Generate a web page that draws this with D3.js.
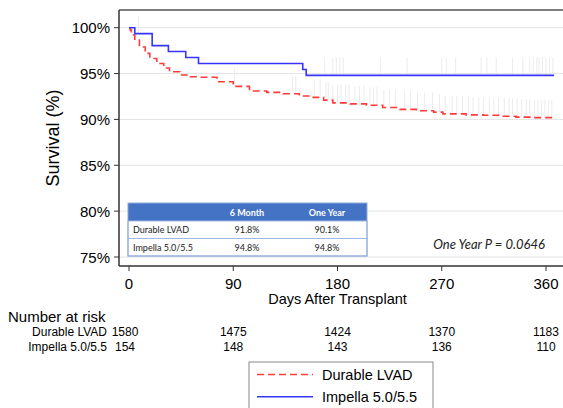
<!DOCTYPE html>
<html>
<head>
<meta charset="utf-8">
<script src="https://cdn.jsdelivr.net/npm/d3@7"></script>
<style>
  body { margin: 0; background: #fff; }
  svg { display: block; font-family: "Liberation Sans", Arial, sans-serif; }
</style>
</head>
<body>
<div id="chart"></div>
<script>
// Kaplan-Meier estimates (days, survival %)
const lvadDays = [0, 1, 2, 5, 9, 14, 18, 24, 30, 35, 44, 53, 61, 76, 90, 104, 119, 133, 147, 159, 168, 176, 191, 205, 219, 234, 248, 263, 271, 291, 306, 320, 334, 349, 367];
const lvadSurv = [100, 99.75, 99.2, 98.65, 97.9, 97.2, 96.65, 96.1, 95.6, 95.2, 94.85, 94.65, 94.6, 94.1, 93.6, 93.1, 92.95, 92.8, 92.55, 92.4, 92.1, 91.8, 91.7, 91.55, 91.3, 91.1, 90.95, 90.8, 90.6, 90.5, 90.45, 90.35, 90.25, 90.2, 90.1];

const impDays = [0, 5, 20, 34, 49, 60, 150, 153, 367];
const impSurv = [100, 99.35, 98.05, 97.4, 96.75, 96.1, 95.45, 94.8, 94.8];

// censoring marks
const lvadCensor = [91, 141, 144, 160, 165, 170, 172, 176, 180, 183, 187, 190, 195, 199, 203, 208, 211, 214, 220, 225, 230, 238, 243, 249, 255, 262, 268, 273, 279, 283, 288, 293, 297, 302, 306, 311, 315, 319, 324, 328, 331, 335, 339, 343, 346, 350, 353, 356, 359, 362, 365];
const impCensor = [8, 169, 176, 179, 182, 185, 217, 240, 270, 274, 282, 304, 309, 317, 331, 340, 346, 349, 352, 354, 357, 360, 363, 366];

const xTicks = [0, 90, 180, 270, 360];
const yTicks = [75, 80, 85, 90, 95, 100];

// number at risk
const riskGroups = ["Durable LVAD", "Impella 5.0/5.5"];
const riskLVAD = [1580, 1475, 1424, 1370, 1183];
const riskImpella = [154, 148, 143, 136, 110];

// inset table
const tableCols = ["6 Month", "One Year"];
const tableSixMonth = ["91.8%", "94.8%"];
const tableOneYear = ["90.1%", "94.8%"];

const pValue = "One Year P = 0.0646";

const red = "#ff3b3b";
const blue = "#3535ff";

const W = 563, H = 408;
const frameLeft = 119, frameTop = 10, frameBottom = 266;

const svg = d3.select("#chart").append("svg")
  .attr("width", W)
  .attr("height", H);

const x = d3.scaleLinear().domain([0, 360]).range([129, 546]);
const y = d3.scaleLinear().domain([75, 100]).range([257, 27.7]);

// gridlines
svg.append("g")
  .selectAll("line")
  .data(yTicks)
  .enter()
  .append("line")
  .attr("x1", frameLeft).attr("x2", W)
  .attr("y1", d => y(d)).attr("y2", d => y(d))
  .attr("stroke", "#e4e4e4")
  .attr("stroke-width", 1);

// censoring marks
const lvadStep = d => {
  let v = lvadSurv[0];
  lvadDays.forEach((t, i) => { if (t <= d) v = lvadSurv[i]; });
  return v;
};
const impStep = d => {
  let v = impSurv[0];
  impDays.forEach((t, i) => { if (t <= d) v = impSurv[i]; });
  return v;
};
svg.append("g")
  .selectAll("line")
  .data(lvadCensor)
  .enter()
  .append("line")
  .attr("x1", d => x(d)).attr("x2", d => x(d))
  .attr("y1", d => y(lvadStep(d)))
  .attr("y2", d => y(lvadStep(d)) - 18)
  .attr("stroke", "#ececec")
  .attr("stroke-width", 1);
svg.append("g")
  .selectAll("line")
  .data(impCensor)
  .enter()
  .append("line")
  .attr("x1", d => x(d)).attr("x2", d => x(d))
  .attr("y1", d => y(impStep(d)))
  .attr("y2", d => y(impStep(d)) - 18)
  .attr("stroke", "#ececec")
  .attr("stroke-width", 1);

// survival curves
const line = d3.line()
  .x(d => x(d[0]))
  .y(d => y(d[1]))
  .curve(d3.curveStepAfter);

svg.append("path")
  .attr("d", line(d3.zip(lvadDays, lvadSurv)))
  .attr("fill", "none")
  .attr("stroke", red)
  .attr("stroke-width", 1.6)
  .attr("stroke-dasharray", "7,4");

svg.append("path")
  .attr("d", line(d3.zip(impDays, impSurv)))
  .attr("fill", "none")
  .attr("stroke", blue)
  .attr("stroke-width", 1.6);

// frame
svg.append("line")
  .attr("x1", frameLeft).attr("x2", W)
  .attr("y1", frameTop).attr("y2", frameTop)
  .attr("stroke", "#555").attr("stroke-width", 1.5);
svg.append("line")
  .attr("x1", frameLeft).attr("x2", W)
  .attr("y1", frameBottom).attr("y2", frameBottom)
  .attr("stroke", "#333").attr("stroke-width", 1.5);
svg.append("line")
  .attr("x1", frameLeft).attr("x2", frameLeft)
  .attr("y1", frameTop).attr("y2", frameBottom)
  .attr("stroke", "#333").attr("stroke-width", 1.5);

// y axis ticks and labels
const yAxis = svg.append("g");
yAxis.selectAll("line")
  .data(yTicks)
  .enter()
  .append("line")
  .attr("x1", frameLeft - 5).attr("x2", frameLeft)
  .attr("y1", d => y(d)).attr("y2", d => y(d))
  .attr("stroke", "#333");
yAxis.selectAll("text")
  .data(yTicks)
  .enter()
  .append("text")
  .attr("x", 110)
  .attr("y", d => y(d) + 5.5)
  .attr("text-anchor", "end")
  .style("font-size", "15px")
  .text(d => d + "%");

svg.append("text")
  .attr("transform", "translate(59,138) rotate(-90)")
  .attr("text-anchor", "middle")
  .style("font-size", "18px")
  .text("Survival (%)");

// x axis ticks and labels
const xAxis = svg.append("g");
xAxis.selectAll("line")
  .data(xTicks)
  .enter()
  .append("line")
  .attr("x1", d => x(d)).attr("x2", d => x(d))
  .attr("y1", frameBottom).attr("y2", frameBottom + 5)
  .attr("stroke", "#333");
xAxis.selectAll("text")
  .data(xTicks)
  .enter()
  .append("text")
  .attr("x", d => x(d))
  .attr("y", 289)
  .attr("text-anchor", "middle")
  .style("font-size", "15px")
  .text(d => d);

svg.append("text")
  .attr("x", x(180))
  .attr("y", 304)
  .attr("text-anchor", "middle")
  .style("font-size", "14.5px")
  .text("Days After Transplant");

// inset table
const tX = 128, tW = 239, hdrH = 18, rowH = 17.5, tY = 203;
const colX = [133, 247, 327];
const tbl = svg.append("g").style("font-family", "Lato, 'Open Sans', sans-serif");
tbl.append("rect")
  .attr("x", tX).attr("y", tY).attr("width", tW).attr("height", hdrH)
  .attr("fill", "#4472c4");
tbl.selectAll("text.hdr")
  .data(tableCols)
  .enter()
  .append("text")
  .attr("class", "hdr")
  .attr("x", (d, i) => colX[i + 1])
  .attr("y", tY + 12.5)
  .attr("text-anchor", "middle")
  .attr("fill", "#fff")
  .style("font-size", "9px")
  .style("font-weight", "bold")
  .text(d => d);
const rows = tbl.selectAll("g.row")
  .data(riskGroups)
  .enter()
  .append("g")
  .attr("transform", (d, i) => "translate(0," + (tY + hdrH + i * rowH) + ")");
rows.append("rect")
  .attr("x", tX).attr("y", 0).attr("width", tW).attr("height", rowH)
  .attr("fill", "#fff")
  .attr("stroke", "#9fb7e3")
  .attr("stroke-width", 1);
rows.append("text")
  .attr("x", colX[0]).attr("y", 12)
  .style("font-size", "9px")
  .attr("fill", "#222")
  .text(d => d);
rows.append("text")
  .attr("x", colX[1]).attr("y", 12)
  .attr("text-anchor", "middle")
  .style("font-size", "9px")
  .attr("fill", "#222")
  .text((d, i) => tableSixMonth[i]);
rows.append("text")
  .attr("x", colX[2]).attr("y", 12)
  .attr("text-anchor", "middle")
  .style("font-size", "9px")
  .attr("fill", "#222")
  .text((d, i) => tableOneYear[i]);
tbl.append("rect")
  .attr("x", tX).attr("y", tY).attr("width", tW).attr("height", hdrH + 2 * rowH)
  .attr("fill", "none")
  .attr("stroke", "#8eaadb");

// p value
svg.append("text")
  .attr("x", 545)
  .attr("y", 249)
  .attr("text-anchor", "end")
  .style("font-family", "Lato, 'Open Sans', sans-serif")
  .style("font-style", "italic")
  .style("font-size", "13px")
  .attr("fill", "#222")
  .text(pValue);

// number at risk
svg.append("text")
  .attr("x", 8)
  .attr("y", 322)
  .style("font-size", "15px")
  .text("Number at risk");

const riskData = [riskLVAD, riskImpella];
const riskRows = svg.selectAll("g.risk")
  .data(riskGroups)
  .enter()
  .append("g")
  .attr("class", "risk")
  .attr("transform", (d, i) => "translate(0," + (336 + i * 14.5) + ")");
riskRows.append("text")
  .attr("x", 107)
  .attr("text-anchor", "end")
  .style("font-size", "12px")
  .text(d => d);
riskRows.each(function (g, i) {
  d3.select(this).selectAll("text.n")
    .data(riskData[i])
    .enter()
    .append("text")
    .attr("class", "n")
    .attr("x", (d, j) => x(xTicks[j]) - (j === 0 ? 4 : 0))
    .attr("text-anchor", "middle")
    .style("font-size", "12px")
    .text(d => d);
});

// legend
const lg = svg.append("g").attr("transform", "translate(249,362)");
lg.append("rect")
  .attr("width", 184).attr("height", 60)
  .attr("fill", "#fff")
  .attr("stroke", "#888");
const legendItems = [
  { name: riskGroups[0], color: red, dash: "7,4" },
  { name: riskGroups[1], color: blue, dash: null }
];
const li = lg.selectAll("g.item")
  .data(legendItems)
  .enter()
  .append("g")
  .attr("transform", (d, i) => "translate(0," + (12.5 + i * 22.3) + ")");
li.append("line")
  .attr("x1", 8).attr("x2", 64)
  .attr("stroke", d => d.color)
  .attr("stroke-width", 1.6)
  .attr("stroke-dasharray", d => d.dash);
li.append("text")
  .attr("x", 73)
  .attr("y", 5)
  .style("font-size", "14.5px")
  .text(d => d.name);
</script>
</body>
</html>
